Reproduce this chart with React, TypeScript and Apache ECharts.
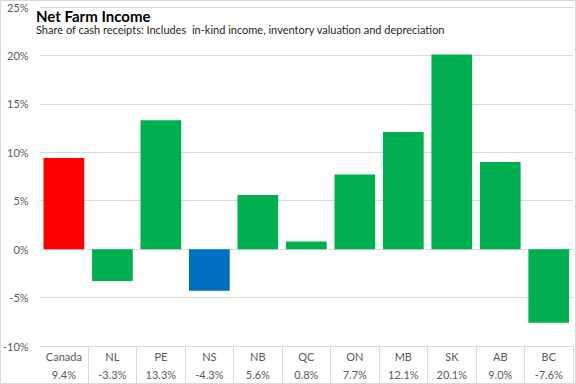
import React, { useEffect, useRef } from "react";
import * as echarts from "echarts";

const categories = ["Canada", "NL", "PE", "NS", "NB", "QC", "ON", "MB", "SK", "AB", "BC"];
const values = [9.4, -3.3, 13.3, -4.3, 5.6, 0.8, 7.7, 12.1, 20.1, 9.0, -7.6];
const barColors = ["#FF0000", "#00B050", "#00B050", "#0070C0", "#00B050", "#00B050", "#00B050", "#00B050", "#00B050", "#00B050", "#00B050"];
const titleText = "Net Farm Income";
const subtitleText = "Share of cash receipts: Includes  in-kind income, inventory valuation and depreciation";

export default function App() {
  const ref = useRef<HTMLDivElement>(null);
  useEffect(() => {
    if (!ref.current) return;
    const chart = echarts.init(ref.current, null, { renderer: "svg" });
    const font = "Lato, 'Liberation Sans', sans-serif";
    chart.setOption({
      animation: false,
      backgroundColor: "#ffffff",
      textStyle: { fontFamily: font },
      title: {
        text: titleText,
        subtext: subtitleText,
        left: 31,
        top: 3,
        itemGap: 1,
        textStyle: { fontFamily: font, fontSize: 15, fontWeight: "bold", color: "#000000" },
        subtextStyle: { fontFamily: font, fontSize: 11, color: "#262626" },
      },
      grid: { left: 37, right: 3, top: 7, bottom: 38 },
      xAxis: {
        type: "category",
        data: categories,
        axisLine: { onZero: false, lineStyle: { color: "#d9d9d9" } },
        axisTick: {
          show: true,
          length: 38,
          interval: (index: number) => index > 0,
          lineStyle: { color: "#d9d9d9" },
        },
        axisLabel: {
          interval: 0,
          margin: 1,
          formatter: (v: string, i: number) => `{c|${v}}\n{v|${values[i].toFixed(1)}%}`,
          rich: {
            c: { fontFamily: font, fontSize: 11, color: "#595959", lineHeight: 18 },
            v: { fontFamily: font, fontSize: 11, color: "#595959", lineHeight: 18 },
          },
        },
      },
      yAxis: {
        type: "value",
        min: -10,
        max: 25,
        interval: 5,
        axisLine: { show: false },
        axisTick: { show: false },
        splitLine: { lineStyle: { color: "#d9d9d9" } },
        axisLabel: { formatter: "{value}%", fontFamily: font, fontSize: 11, color: "#595959", margin: 11 },
      },
      series: [
        {
          type: "bar",
          data: values.map((v, i) => ({ value: v, itemStyle: { color: barColors[i] } })),
          barCategoryGap: "16%",
        },
      ],
      graphic: [
        {
          type: "rect",
          shape: { x: 0.5, y: 0.5, width: 575, height: 383 },
          style: { fill: "none", stroke: "#d9d9d9", lineWidth: 1 },
          z: 100,
        },
      ],
    });
    return () => chart.dispose();
  }, []);
  return <div ref={ref} style={{ position: "absolute", left: 0, top: 0, width: 576, height: 384 }} />;
}
